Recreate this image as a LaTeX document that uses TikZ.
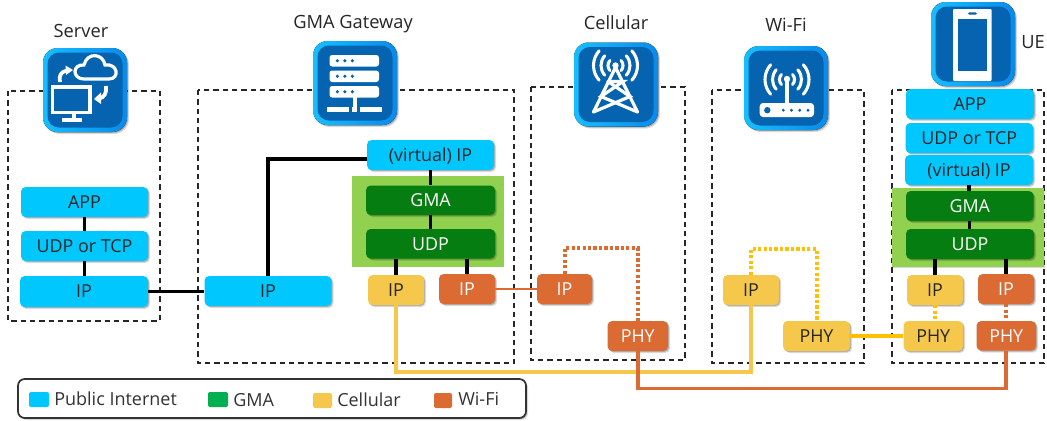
\documentclass[tikz,border=0pt]{standalone}
\usepackage{fontspec}
\setmainfont{Open Sans}
\usetikzlibrary{shadows}
\definecolor{netc}{HTML}{00C8FF}
\definecolor{gmac}{HTML}{067D10}
\definecolor{gmabg}{HTML}{92D050}
\definecolor{cellc}{HTML}{F5C84B}
\definecolor{wific}{HTML}{DC6A33}
\definecolor{celld}{HTML}{FFC000}
\definecolor{legg}{HTML}{00B050}
\definecolor{icond}{HTML}{0563AF}
\definecolor{iconl}{HTML}{16BEFF}
\definecolor{iconr}{HTML}{0A8AEA}
\tikzset{
  softshadow/.style={drop shadow={shadow xshift=1.5pt,shadow yshift=-1.5pt,opacity=.13,fill=black},
                     drop shadow={shadow xshift=.8pt,shadow yshift=-.8pt,opacity=.2,fill=black}},
  layer/.style={rounded corners=3.5pt,inner sep=0pt,softshadow,text height=10pt,text depth=.6pt,
                font=\fontsize{13.4}{15}\selectfont},
  netbox/.style={layer,fill=netc,text=black!85},
  gmabox/.style={layer,fill=gmac,text=white},
  cellbox/.style={layer,fill=cellc,text=black!85},
  wifibox/.style={layer,fill=wific,text=white},
  title/.style={inner sep=0pt,font=\fontsize{13.7}{15}\selectfont,text=black!85,text height=10pt,text depth=.6pt},
  legtext/.style={inner sep=0pt,anchor=west,font=\fontsize{13.5}{15}\selectfont,text=black!80,text height=10pt,text depth=.6pt},
  swatch/.style={rounded corners=1.5pt,inner sep=0pt},
  zone/.style={draw=black!85,line width=1pt,dash pattern=on 4pt off 3pt},
  gmazone/.style={fill=gmabg},
  blackw/.style={line width=2.6pt,black},
  orw/.style={line width=2pt,wific},
  yelw/.style={line width=2.7pt,cellc},
  orthick/.style={line width=2.9pt,wific},
  dotor/.style={line width=3pt,wific,dash pattern=on 2.4pt off 1.7pt},
  dotye/.style={line width=3pt,celld,dash pattern=on 2.4pt off 1.7pt},
  iconw/.style={line width=2.4pt,white},
}
\newcommand\lay[7]{\node[#6,minimum width={(#4-#2)*0.75pt},minimum height={(#5-#3)*0.75pt}] (#1) at ({(#2+#4)/2},{(#3+#5)/2}) {#7};}
\newcommand\iconbase{%
  \fill[rounded corners=11pt,left color=iconl,right color=iconr,softshadow] (0,0) rectangle (84,84);
  \fill[icond,rounded corners=8.5pt] (4.5,4.5) rectangle (79.5,79.5);}
\newcommand\waves[3]{% centre x,y ; reach angle
  \foreach \r in {7.5,14.5,22}{
    \draw[line width=2.3pt,white,line cap=round] (#1,#2) ++(-#3:\r) arc[start angle=-#3,end angle=#3,radius=\r];
    \draw[line width=2.3pt,white,line cap=round] (#1,#2) ++(180-#3:\r) arc[start angle=180-#3,end angle=180+#3,radius=\r];
  }}
\begin{document}
\begin{tikzpicture}[x=0.75pt,y=-0.75pt]
\useasboundingbox (0,0) rectangle (1047,421);
\fill[white] (0,0) rectangle (1047,421);
% zones
\draw[zone] (8,91) rectangle (160,321);
\draw[zone] (198,90) rectangle (514,363);
\draw[zone] (531,87) rectangle (685,360);
\draw[zone] (712,90) rectangle (864,363);
\draw[zone] (892,90) rectangle (1044,363);
\fill[gmazone] (352,176) rectangle (504,267);
\fill[gmazone,drop shadow={shadow xshift=1pt,shadow yshift=-1pt,opacity=.15,fill=black}] (892,188) rectangle (1044,267);
% server stack
\lay{sApp}{21}{187}{148}{217}{netbox}{APP}
\lay{sUdp}{21}{231}{148}{261}{netbox}{UDP or TCP}
\lay{sIp}{20}{276}{148}{307}{netbox}{IP}
% gateway
\lay{gIp}{204.5}{276}{331.5}{306}{netbox}{IP}
\lay{gV}{367}{140}{494}{170}{netbox}{(virtual) IP}
\lay{gGma}{366}{185.5}{495}{215}{gmabox}{GMA}
\lay{gUdp}{366}{229}{495}{258.5}{gmabox}{UDP}
\lay{gIpY}{368}{275}{424}{305}{cellbox}{IP}
\lay{gIpO}{439}{274}{495}{304}{wifibox}{IP}
% cellular
\lay{cIp}{537}{274}{592}{304}{wifibox}{IP}
\lay{cPhy}{607.5}{321}{668}{351}{wifibox}{PHY}
% wifi
\lay{wIp}{723}{275}{779}{305}{cellbox}{IP}
\lay{wPhy}{783}{321}{850}{351}{cellbox}{PHY}
% UE
\lay{uApp}{906}{89}{1034}{119}{netbox}{APP}
\lay{uUdp}{905.5}{123}{1033}{153}{netbox}{UDP or TCP}
\lay{uV}{905}{155}{1033}{185}{netbox}{(virtual) IP}
\lay{uGma}{906}{191}{1033.5}{221}{gmabox}{GMA}
\lay{uUdpG}{906}{229}{1034}{259}{gmabox}{UDP}
\lay{uIpY}{907}{275}{963}{305}{cellbox}{IP}
\lay{uIpO}{978}{274}{1034}{304}{wifibox}{IP}
\lay{uPhyY}{903.5}{321}{963}{351}{cellbox}{PHY}
\lay{uPhyO}{976.5}{321}{1036}{350.5}{wifibox}{PHY}
% connectors
\draw[blackw] (sApp.south) -- (sApp.south |- sUdp.north);
\draw[blackw] (sUdp.south) -- (sUdp.south |- sIp.north);
\draw[blackw] (sIp.east) -- (sIp.east -| gIp.west);
\draw[blackw] (gIp.north) |- ([yshift=-3pt]gV.west);
\draw[blackw] (gV.south) -- (gV.south |- gGma.north);
\draw[blackw] (gGma.south) -- (gGma.south |- gUdp.north);
\draw[blackw] (gIpY.north) -- (gIpY.north |- gUdp.south);
\draw[blackw] (gIpO.north) -- (gIpO.north |- gUdp.south);
\draw[blackw] (uV.south) -- (uV.south |- uGma.north);
\draw[blackw] (uGma.south) -- (uGma.south |- uUdpG.north);
\draw[blackw] (uIpY.north) -- (uIpY.north |- uUdpG.south);
\draw[blackw] (uIpO.north) -- (uIpO.north |- uUdpG.south);
\draw[orw] (gIpO.east) -- (gIpO.east -| cIp.west);
\coordinate (yrail) at (396,372);
\coordinate (orail) at (638,388.5);
\draw[yelw] (gIpY.south) |- (wIp.south |- yrail) -- (wIp.south);
\draw[orthick] (cPhy.south) |- (uPhyO.south |- orail) -- (uPhyO.south);
\draw[line width=2.6pt,celld] (wPhy.east) -- (wPhy.east -| uPhyY.west);
\coordinate (ortop) at (565,248);
\coordinate (yetop) at (751,249);
\draw[dotor] (cIp.north) |- (cPhy.north |- ortop) -- (cPhy.north);
\draw[dotye] (wIp.north) |- (wPhy.north |- yetop) -- (wPhy.north);
\draw[dotye] (uIpY.south) -- (uIpY.south |- uPhyY.north);
\draw[dotor] (uIpO.south) -- (uIpO.south |- uPhyO.north);
% icons
\begin{scope}[shift={(43,48)}] % server
  \iconbase
  \draw[iconw] (9.5,39) rectangle (47,64.5);
  \fill[white] (29,64) rectangle (32.5,70);
  \fill[white] (18.5,70) rectangle (38.5,74);
  \draw[iconw] (41,31) .. controls (29,31) and (29,16) .. (41,17) .. controls (44,4) and (60,5) .. (62,17) .. controls (75,15) and (77,31) .. (66,31) -- cycle;
  \draw[iconw,line width=2.8pt] (17,34) .. controls (15.5,28) and (18,23.5) .. (24,22.5);
  \fill[white] (22.5,17.5) -- (30,22) -- (23,27) -- cycle;
  \draw[iconw,line width=2.8pt] (63,38) .. controls (64,45) and (61,50) .. (56,50.5);
  \fill[white] (58,44.5) -- (51,51) -- (58,56) -- cycle;
\end{scope}
\begin{scope}[shift={(313,41)}] % gateway
  \iconbase
  \foreach \yy in {14,29.5,45}{
    \fill[white,rounded corners=2pt] (16.5,\yy) rectangle (66,\yy+11.5);
    \foreach \xx in {24.3,31.8,39.3} \fill[icond] (\xx,\yy+5.75) circle (1.8);
  }
  \fill[white] (39.5,56) rectangle (43.5,66);
  \fill[white] (14,65.5) rectangle (36,70.5);
  \fill[white] (39,65.5) rectangle (43.8,70.5);
  \fill[white] (46.7,65.5) rectangle (68.5,70.5);
\end{scope}
\begin{scope}[shift={(574,42.5)}] % cellular
  \iconbase
  \waves{41.5}{23}{42}
  \fill[white] (41.5,23) circle (3.2);
  \draw[iconw,line join=round,line cap=round] (19.5,69.5) -- (41.5,25) -- (63.5,69.5);
  \draw[iconw,line cap=round] (34,39) -- (49,39) -- (27,54) -- (63.5,69.5);
  \draw[iconw,line cap=round] (34,39) -- (56,54) -- (19.5,69.5);
\end{scope}
\begin{scope}[shift={(744,46)}] % wifi
  \iconbase
  \waves{43}{33.5}{42}
  \fill[white] (43,33) circle (3.2);
  \draw[iconw] (43,33) -- (43,58);
  \fill[white,rounded corners=2.5pt] (15.7,57) rectangle (70,71);
  \fill[icond] (23.3,64.2) circle (3.2);
  \foreach \xx in {39.3,47.5,55.7,64} \fill[icond] (\xx,64.2) circle (1.6);
\end{scope}
\begin{scope}[shift={(931,2)}] % phone
  \iconbase
  \fill[white,rounded corners=.8pt] (22,7) rectangle (60.7,79);
  \fill[icond] (27,16.7) rectangle (56,69.3);
  \fill[icond,rounded corners=1pt] (37,10.3) rectangle (46,12.7);
\end{scope}
% titles
\node[title] (tServer) at (81,31) {Server};
\node[title] (tGate) at (353,22) {GMA Gateway};
\node[title] (tCell) at (616,23) {Cellular};
\node[title] (tWifi) at (786,25) {Wi-Fi};
\node[title] (tUe) at (1033,42) {UE};
% legend
\draw[draw=black!80,line width=1.3pt,rounded corners=5pt,fill=white,softshadow] (18,379) rectangle (526,418);
\lay{k1}{29}{392}{49}{407}{swatch,fill=netc}{}
\lay{k2}{208}{392}{228}{407}{swatch,fill=legg}{}
\lay{k3}{313}{393}{332}{408}{swatch,fill=cellc}{}
\lay{k4}{434}{393}{452}{408}{swatch,fill=wific}{}
\node[legtext] (l1) at (54,399) {Public Internet};
\node[legtext] (l2) at (233,400) {GMA};
\node[legtext] (l3) at (337,400) {Cellular};
\node[legtext] (l4) at (458,399) {Wi-Fi};
\end{tikzpicture}
\end{document}
